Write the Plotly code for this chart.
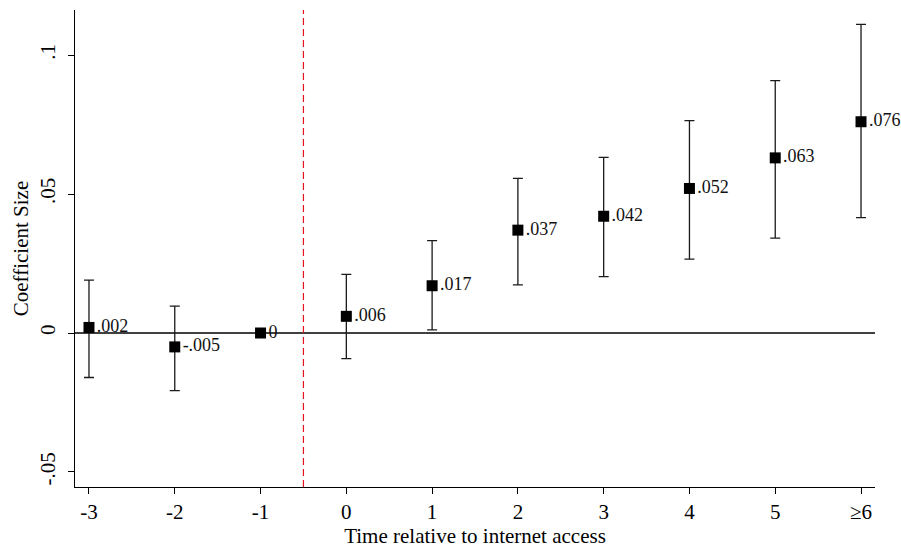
import plotly.graph_objects as go

periods = ["-3", "-2", "-1", "0", "1", "2", "3", "4", "5", "≥6"]
coef = [0.002, -0.005, 0.0, 0.006, 0.017, 0.037, 0.042, 0.052, 0.063, 0.076]
upper = [0.019, 0.0097, 0.0, 0.0211, 0.0332, 0.0556, 0.0632, 0.0764, 0.0908, 0.111]
lower = [-0.016, -0.0207, 0.0, -0.0092, 0.0011, 0.0173, 0.0203, 0.0266, 0.0341, 0.0415]
labels = [".002", "-.005", "0", ".006", ".017", ".037", ".042", ".052", ".063", ".076"]
has_ci = [True, True, False, True, True, True, True, True, True, True]

ytick_vals = [-0.05, 0, 0.05, 0.1]
ytick_text = ["-.05", "0", ".05", ".1"]

xpos = list(range(len(periods)))
err_plus = [u - c if h else 0 for u, c, h in zip(upper, coef, has_ci)]
err_minus = [c - l if h else 0 for l, c, h in zip(lower, coef, has_ci)]

font_family = "Liberation Serif, Times New Roman, serif"

fig = go.Figure()

ci_x = [x for x, h in zip(xpos, has_ci) if h]
ci_y = [c for c, h in zip(coef, has_ci) if h]
ci_p = [e for e, h in zip(err_plus, has_ci) if h]
ci_m = [e for e, h in zip(err_minus, has_ci) if h]
fig.add_trace(go.Scatter(
    x=ci_x, y=ci_y, mode="markers",
    marker=dict(size=1, color="rgba(0,0,0,0)"),
    error_y=dict(type="data", symmetric=False, array=ci_p, arrayminus=ci_m,
                 color="#1a1a1a", thickness=1.3, width=5),
    showlegend=False, hoverinfo="skip", cliponaxis=False,
))

fig.add_trace(go.Scatter(
    x=xpos, y=coef, mode="markers+text",
    marker=dict(symbol="square", size=11, color="black"),
    text=labels, textposition="middle right",
    textfont=dict(family=font_family, size=18, color="#111111"),
    showlegend=False, cliponaxis=False,
))

fig.add_hline(y=0, line=dict(color="black", width=1.4), layer="below")
fig.add_vline(x=2.5, line=dict(color="rgb(230,20,30)", width=1.2, dash="7px,4px"), layer="below")

fig.update_layout(
    width=901, height=550,
    margin=dict(l=75, r=26, t=10, b=63),
    plot_bgcolor="white", paper_bgcolor="white",
    font=dict(family=font_family, size=21, color="black"),
    xaxis=dict(
        range=[-0.163, 9.163],
        tickmode="array", tickvals=xpos, ticktext=periods,
        showgrid=False, zeroline=False,
        showline=True, linecolor="black", linewidth=1.4,
        ticks="outside", ticklen=6, tickwidth=1.3, tickcolor="black",
        tickfont=dict(family=font_family, size=21),
        title=dict(text="Time relative to internet access", standoff=0,
                   font=dict(family=font_family, size=21)),
    ),
    yaxis=dict(
        range=[-0.0554, 0.1162],
        tickmode="array", tickvals=ytick_vals, ticktext=ytick_text,
        tickangle=-90, ticklabelstandoff=4,
        showgrid=False, zeroline=False,
        showline=True, linecolor="black", linewidth=1.4,
        ticks="outside", ticklen=6, tickwidth=1.3, tickcolor="black",
        tickfont=dict(family=font_family, size=21),
        title=dict(text="Coefficient Size", standoff=2,
                   font=dict(family=font_family, size=21)),
    ),
)

fig.write_html("out.html")
